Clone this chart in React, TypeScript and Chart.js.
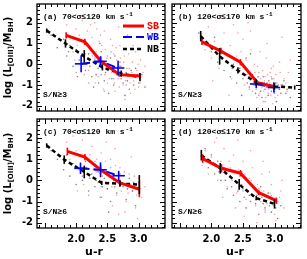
import React, { useEffect, useRef } from "react";
import { Chart, registerables } from "chart.js";
Chart.register(...registerables);

type Pt = [number, number];

const X_MIN = 1.375;
const X_MAX = 3.42;
const Y_MIN = -2.25;
const Y_MAX = 2.9;
const xTickLabels = [2.0, 2.5, 3.0];
const yTickLabels = [-2, -1, 0, 1, 2];
const legendNames = ["SB", "WB", "NB"];
const panelTitles = ["(a) 70<σ≤120 km s", "(b) 120<σ≤170 km s", "(c) 70<σ≤120 km s", "(d) 120<σ≤170 km s"];
const snLabels = ["S/N≥3", "S/N≥3", "S/N≥6", "S/N≥6"];

// ---- Panel (a) ----
const sbAx = [1.84, 2.14, 2.39, 2.69, 3.02];
const sbAy = [1.39, 1.08, 0.16, -0.5, -0.57];
const sbAerr = [0.15, 0.15, 0.2, 0.1, 0.15];
const wbAx = [2.08, 2.39, 2.67];
const wbAy = [0.02, 0.14, -0.18];
const wbAerr = [0.4, 0.25, 0.35];
const nbAx = [1.53, 1.83, 2.13, 2.42, 2.72, 3.02];
const nbAy = [1.62, 1.0, 0.38, -0.15, -0.45, -0.62];
const nbAerr = [0.1, 0.2, 0.3, 0.15, 0.15, 0.2];
const dotsAred: Pt[] = [[1.85,1.9],[1.9,1.2],[1.95,0.6],[2.0,1.7],[2.02,0.9],[2.05,1.4],[2.08,0.2],[2.1,2.1],[2.12,1.0],[2.15,0.5],[2.18,1.6],[2.2,-0.3],[2.22,0.8],[2.25,1.3],[2.27,0.1],[2.3,2.0],[2.32,0.6],[2.35,-0.6],[2.37,1.1],[2.4,0.3],[2.42,-0.2],[2.45,1.6],[2.47,0.7],[2.5,-0.9],[2.52,0.0],[2.55,1.2],[2.57,-0.4],[2.6,0.5],[2.62,-1.3],[2.65,0.2],[2.67,-0.7],[2.7,0.9],[2.72,-0.1],[2.75,-1.0],[2.77,0.4],[2.8,-0.5],[2.82,1.4],[2.85,-0.2],[2.87,-1.4],[2.9,0.1],[2.92,-0.8],[2.95,0.6],[2.97,-0.3],[3.0,-1.1],[3.03,0.2],[3.05,-0.6],[3.1,-0.1],[2.33,1.7],[2.58,0.9],[2.13,-0.5],[2.68,1.8],[2.44,-1.2],[1.98,0.2],[2.78,-1.7],
  [2.26,0.4],[2.31,-0.9],[2.36,0.2],[2.41,0.9],[2.46,-0.5],[2.49,0.3],[2.53,-0.7],[2.56,0.6],[2.59,-0.2],[2.61,-0.9],[2.64,0.8],[2.66,-0.3],[2.69,-1.1],[2.71,0.3],[2.74,-0.5],[2.76,0.1],[2.79,-0.8],[2.81,-0.2],[2.84,0.5],[2.86,-0.9],[2.89,-0.4],[2.91,0.9],[2.94,-1.2],[2.96,-0.6],[2.99,0.0],[3.02,-0.9],[3.07,-0.4],[2.17,0.9],[2.23,1.9],[2.39,1.4]];
const dotsAblack: Pt[] = [[1.6,1.4],[1.7,0.8],[1.8,1.2],[1.85,0.4],[1.9,0.9],[1.95,-0.1],[2.0,0.7],[2.05,0.2],[2.1,1.1],[2.15,-0.3],[2.2,0.5],[2.25,-0.6],[2.3,0.2],[2.35,-0.2],[2.4,0.6],[2.45,-0.8],[2.5,-0.3],[2.55,0.3],[2.6,-1.0],[2.65,-0.5],[2.7,-0.1],[2.75,-0.9],[2.8,-0.4],[2.85,-1.2],[2.9,-0.6],[2.95,-0.2],[3.0,-0.9],[3.05,-0.5],[3.1,-1.1],[2.28,-1.1],[2.52,-1.4],[2.62,0.4],[2.02,-0.6],[2.38,1.0],[2.78,-1.5],
  [2.22,-0.1],[2.32,-0.5],[2.42,0.1],[2.47,-0.4],[2.57,-0.7],[2.67,-0.2],[2.72,-0.7],[2.82,-0.8],[2.88,-0.3],[2.98,-0.5],[2.12,0.4],[1.88,0.6],[2.36,-0.9],[2.58,-0.1],[2.92,-1.0]];
const dotsAblue: Pt[] = [[2.0,-0.4],[2.1,0.5],[2.2,-0.9],[2.3,0.3],[2.4,-0.5],[2.5,0.4],[2.6,-0.7],[2.7,0.1],[2.8,-1.0],[2.45,-1.3]];

// ---- Panel (b) ----
const sbBx = [1.85, 2.15, 2.46, 2.73, 2.99];
const sbBy = [1.08, 0.63, 0.1, -0.89, -1.08];
const sbBerr = [0.15, 0.15, 0.15, 0.1, 0.12];
const wbBx = [2.71, 2.99];
const wbBy = [-0.95, -1.12];
const wbBerr = [0.2, 0.25];
const nbBx = [1.83, 2.13, 2.42, 2.71, 3.0, 3.32];
const nbBy = [1.35, 0.38, -0.3, -0.88, -1.07, -1.12];
const nbBerr = [0.25, 0.4, 0.15, 0.15, 0.15, 0.1];
const dotsBred: Pt[] = [[1.85,1.3],[1.9,0.7],[1.95,1.8],[2.0,0.3],[2.05,1.1],[2.1,2.2],[2.12,-0.2],[2.15,0.8],[2.2,1.5],[2.25,0.1],[2.3,0.9],[2.32,-0.7],[2.35,1.9],[2.4,0.4],[2.45,-0.3],[2.5,1.2],[2.52,-1.0],[2.55,0.2],[2.6,-0.6],[2.62,1.6],[2.65,-1.3],[2.68,0.0],[2.7,-0.8],[2.72,-1.6],[2.75,-0.4],[2.77,0.6],[2.8,-1.1],[2.82,-1.8],[2.85,-0.6],[2.87,0.3],[2.9,-1.4],[2.92,-0.9],[2.95,-0.2],[2.97,-1.9],[3.0,-1.2],[3.02,-0.5],[3.05,-1.5],[3.08,0.1],[3.1,-1.0],[3.15,-0.7],[3.2,-1.3],[3.25,0.2],[2.58,2.0],[2.42,1.5],[2.88,1.0],[3.12,1.3],[2.28,-1.5],[2.02,-0.8],[2.74,-2.1],[2.98,-0.1],
  [2.66,-0.9],[2.69,-0.4],[2.71,-1.2],[2.73,-0.1],[2.76,-1.4],[2.78,-0.7],[2.79,-1.0],[2.81,-0.3],[2.83,-1.3],[2.84,-0.8],[2.86,-1.6],[2.89,-0.5],[2.91,-1.2],[2.93,-0.4],[2.94,-1.5],[2.96,-1.0],[2.99,-0.7],[3.01,-1.6],[3.04,-0.9],[3.07,-1.2],[3.09,-0.4],[3.13,-1.0],[3.18,-0.9],[2.56,-0.5],[2.47,0.6],[2.37,0.3],[2.63,0.7],[3.22,-0.4]];
const dotsBblack: Pt[] = [[1.8,1.5],[1.9,1.0],[2.0,0.6],[2.05,1.3],[2.1,0.1],[2.15,0.7],[2.2,-0.3],[2.25,0.4],[2.3,-0.6],[2.35,0.0],[2.4,-0.9],[2.45,-0.2],[2.5,-0.7],[2.55,0.3],[2.6,-1.1],[2.65,-0.5],[2.7,-1.4],[2.72,-0.8],[2.75,-1.0],[2.8,-1.6],[2.82,-0.6],[2.85,-1.2],[2.88,-0.9],[2.9,-1.5],[2.93,-1.1],[2.96,-0.7],[3.0,-1.3],[3.03,-1.8],[3.06,-1.0],[3.1,-1.4],[3.15,-0.8],[3.2,-1.2],[2.48,-1.5],[2.62,0.5],[3.25,-1.6],
  [2.68,-1.0],[2.74,-0.6],[2.78,-1.3],[2.84,-0.9],[2.87,-1.1],[2.91,-0.8],[2.95,-1.3],[2.98,-1.0],[3.02,-0.9],[3.08,-1.2],[3.12,-1.0],[2.57,-0.9],[2.33,-0.2],[3.18,-1.4]];
const dotsBblue: Pt[] = [[2.6,-1.2],[2.7,-0.7],[2.75,-1.5],[2.8,-0.9],[2.85,-1.8],[2.9,-1.1],[2.95,-0.6],[3.0,-1.4]];

// ---- Panel (c) ----
const sbCx = [1.86, 2.14, 2.39, 2.7, 3.01];
const sbCy = [1.37, 1.1, 0.5, -0.12, -0.42];
const sbCerr = [0.18, 0.15, 0.2, 0.15, 0.38];
const wbCx = [2.07, 2.39, 2.68];
const wbCy = [0.57, 0.5, 0.22];
const wbCerr = [0.27, 0.35, 0.23];
const nbCx = [1.53, 1.81, 2.13, 2.41, 2.7, 3.01];
const nbCy = [1.65, 0.98, 0.4, -0.12, -0.15, -0.2];
const nbCerr = [0.1, 0.2, 0.3, 0.1, 0.15, 0.45];
const dotsCred: Pt[] = [[1.85,1.8],[1.9,1.0],[1.95,2.1],[2.0,1.4],[2.05,0.6],[2.1,1.9],[2.15,1.1],[2.2,0.3],[2.25,1.6],[2.3,0.8],[2.35,-0.1],[2.4,1.3],[2.45,0.5],[2.5,-0.4],[2.55,1.0],[2.6,0.2],[2.65,-0.7],[2.7,0.6],[2.75,-0.2],[2.8,-1.0],[2.85,0.3],[2.9,-0.5],[2.95,-1.3],[3.0,0.1],[3.05,-0.8],[3.1,-0.3],[2.28,2.2],[2.48,1.8],[2.62,1.5],[2.78,-1.5],[2.12,-0.2],[2.38,-0.8],[2.58,-1.2],[2.88,1.1],[2.02,-0.5],[2.68,-1.6],[2.98,-1.8],[2.32,0.4],
  [2.22,1.2],[2.27,0.5],[2.33,1.0],[2.42,0.2],[2.47,0.9],[2.52,0.4],[2.57,-0.3],[2.63,0.7],[2.67,0.0],[2.72,-0.5],[2.77,0.4],[2.83,-0.6],[2.87,-0.2],[2.93,0.2],[2.97,-0.7],[3.03,-0.4],[2.17,0.6],[2.07,1.2]];
const dotsCblack: Pt[] = [[1.6,1.4],[1.7,1.0],[1.8,0.5],[1.85,1.2],[1.9,0.2],[1.95,0.8],[2.0,-0.2],[2.05,0.5],[2.1,0.0],[2.15,0.9],[2.2,-0.5],[2.25,0.3],[2.3,-0.3],[2.35,0.4],[2.4,-0.8],[2.45,0.1],[2.5,-0.4],[2.55,-1.0],[2.6,0.0],[2.65,-0.6],[2.7,0.3],[2.75,-0.3],[2.8,-0.9],[2.85,0.1],[2.9,-0.5],[2.95,-1.2],[3.0,-0.1],[2.52,-1.5],
  [2.12,0.5],[2.22,0.1],[2.32,0.0],[2.42,-0.3],[2.52,-0.1],[2.62,-0.3],[2.72,-0.2],[2.82,-0.4],[2.92,-0.1],[2.02,0.6]];
const dotsCblue: Pt[] = [[2.1,0.2],[2.3,0.9],[2.4,-0.3],[2.55,0.6],[2.7,-0.2],[2.2,-0.7]];

// ---- Panel (d) ----
const sbDx = [1.86, 2.16, 2.46, 2.75, 3.03];
const sbDy = [1.03, 0.57, 0.34, -0.58, -0.96];
const sbDerr = [0.2, 0.2, 0.15, 0.12, 0.15];
const nbDx = [1.84, 2.14, 2.44, 2.71, 3.0];
const nbDy = [1.19, 0.57, -0.19, -0.84, -1.11];
const nbDerr = [0.25, 0.25, 0.25, 0.1, 0.22];
const dotsDred: Pt[] = [[1.85,0.7],[1.9,1.4],[1.95,0.3],[2.0,1.1],[2.05,1.8],[2.1,0.0],[2.15,0.9],[2.2,1.5],[2.25,-0.3],[2.3,0.6],[2.35,1.2],[2.4,-0.6],[2.45,0.2],[2.5,0.9],[2.55,-0.9],[2.6,-0.1],[2.65,0.6],[2.7,-1.2],[2.75,-0.4],[2.8,0.3],[2.85,-1.5],[2.9,-0.8],[2.95,-0.2],[3.0,-1.6],[3.05,-1.0],[3.1,-0.5],[3.15,-1.3],[2.42,1.9],[2.62,1.4],[2.82,0.9],[2.18,-0.8],[2.38,-1.3],[2.72,-2.0],[2.92,0.4],[3.02,-1.9],[2.08,2.0],[2.52,-1.7],[3.12,0.0],
  [2.22,0.3],[2.28,0.9],[2.33,0.0],[2.43,0.5],[2.48,-0.2],[2.53,0.3],[2.58,-0.5],[2.63,0.0],[2.68,-0.7],[2.73,-0.2],[2.78,-1.0],[2.83,-0.5],[2.88,-1.1],[2.93,-0.6],[2.98,-1.2],[3.08,-0.8],[2.13,0.5],[2.03,0.8]];
const dotsDblack: Pt[] = [[1.85,1.0],[1.9,1.5],[1.95,0.6],[2.0,1.2],[2.05,0.3],[2.1,0.9],[2.15,0.0],[2.2,0.6],[2.25,-0.4],[2.3,0.2],[2.35,-0.7],[2.4,-0.1],[2.45,-1.0],[2.5,-0.4],[2.55,-1.3],[2.6,-0.7],[2.65,-0.2],[2.7,-1.1],[2.75,-1.6],[2.8,-0.8],[2.85,-1.3],[2.9,-0.6],[2.95,-1.5],[3.0,-1.0],[3.05,-1.8],[3.1,-1.2],[2.48,0.4],[2.78,-0.3],
  [2.12,0.4],[2.22,0.0],[2.32,-0.3],[2.42,-0.5],[2.52,-0.8],[2.62,-1.0],[2.72,-0.7],[2.82,-1.1],[2.92,-1.2],[3.02,-1.3]];
const dotsDblue: Pt[] = [[2.5,-0.5],[2.7,-0.9],[2.85,-1.4],[2.95,-0.7],[2.6,0.1]];

const RED = "#ff0000";
const BLUE = "#0000ff";
const BLACK = "#000000";

type Series = { x: number[]; y: number[]; err: number[] } | null;
type PanelSpec = {
  idx: number;
  sb: Series; wb: Series; nb: Series;
  red: Pt[]; black: Pt[]; blue: Pt[];
  showY: boolean; showX: boolean; legend: boolean;
  left: number; top: number; width: number; height: number;
  padding: { left: number; right: number; top: number; bottom: number };
  xTitleX: number;
};

const panels: PanelSpec[] = [
  { idx: 0, sb: { x: sbAx, y: sbAy, err: sbAerr }, wb: { x: wbAx, y: wbAy, err: wbAerr }, nb: { x: nbAx, y: nbAy, err: nbAerr },
    red: dotsAred, black: dotsAblack, blue: dotsAblue, showY: true, showX: false, legend: true,
    left: 0, top: 0, width: 169, height: 115, padding: { left: 0, right: 1, top: 2, bottom: 1 }, xTitleX: 0 },
  { idx: 1, sb: { x: sbBx, y: sbBy, err: sbBerr }, wb: { x: wbBx, y: wbBy, err: wbBerr }, nb: { x: nbBx, y: nbBy, err: nbBerr },
    red: dotsBred, black: dotsBblack, blue: dotsBblue, showY: false, showX: false, legend: false,
    left: 168, top: 0, width: 139, height: 115, padding: { left: 1, right: 6, top: 2, bottom: 1 }, xTitleX: 0 },
  { idx: 2, sb: { x: sbCx, y: sbCy, err: sbCerr }, wb: { x: wbCx, y: wbCy, err: wbCerr }, nb: { x: nbCx, y: nbCy, err: nbCerr },
    red: dotsCred, black: dotsCblack, blue: dotsCblue, showY: true, showX: true, legend: false,
    left: 0, top: 115, width: 169, height: 144, padding: { left: 0, right: 1, top: 1, bottom: 0 }, xTitleX: 94 },
  { idx: 3, sb: { x: sbDx, y: sbDy, err: sbDerr }, wb: null, nb: { x: nbDx, y: nbDy, err: nbDerr },
    red: dotsDred, black: dotsDblack, blue: dotsDblue, showY: false, showX: true, legend: false,
    left: 168, top: 115, width: 139, height: 144, padding: { left: 1, right: 6, top: 1, bottom: 0 }, xTitleX: 67 },
];

const TICK_FONT = { family: "'DejaVu Sans'", size: 10, weight: "bold" as const };
const LABEL_FONT = "bold 8px 'Liberation Mono'";

function makePlugin(p: PanelSpec) {
  return {
    id: "panelDecor",
    afterDatasetsDraw(chart: any) {
      const ctx = chart.ctx;
      const a = chart.chartArea;
      const xs = chart.scales.x;
      const ys = chart.scales.y;
      ctx.save();
      // error bars
      chart.data.datasets.forEach((ds: any) => {
        if (!ds.errY) return;
        ctx.strokeStyle = ds.borderColor;
        ctx.lineWidth = 1.6;
        ctx.setLineDash([]);
        ds.data.forEach((pt: any, i: number) => {
          const px = xs.getPixelForValue(pt.x);
          const e = ds.errY[i];
          ctx.beginPath();
          ctx.moveTo(px, ys.getPixelForValue(pt.y - e));
          ctx.lineTo(px, ys.getPixelForValue(pt.y + e));
          ctx.stroke();
          if (ds.errX) {
            const py = ys.getPixelForValue(pt.y);
            ctx.beginPath();
            ctx.moveTo(xs.getPixelForValue(pt.x - ds.errX), py);
            ctx.lineTo(xs.getPixelForValue(pt.x + ds.errX), py);
            ctx.stroke();
          }
        });
      });
      // frame
      ctx.strokeStyle = "#000";
      ctx.lineWidth = 1.3;
      ctx.strokeRect(a.left, a.top, a.right - a.left, a.bottom - a.top);
      // ticks
      ctx.lineWidth = 1;
      ctx.beginPath();
      for (let i = 14; i <= 34; i++) {
        const px = Math.round(xs.getPixelForValue(i / 10)) + 0.5;
        const len = i % 5 === 0 ? 5 : 3;
        ctx.moveTo(px, a.bottom); ctx.lineTo(px, a.bottom - len);
        ctx.moveTo(px, a.top); ctx.lineTo(px, a.top + len);
      }
      for (let i = -11; i <= 14; i++) {
        const py = Math.round(ys.getPixelForValue(i / 5)) + 0.5;
        const len = i % 5 === 0 ? 5 : 3;
        ctx.moveTo(a.left, py); ctx.lineTo(a.left + len, py);
        ctx.moveTo(a.right, py); ctx.lineTo(a.right - len, py);
      }
      ctx.stroke();
      // panel title
      ctx.fillStyle = "#000";
      ctx.textBaseline = "middle";
      ctx.textAlign = "left";
      ctx.font = LABEL_FONT;
      const t = panelTitles[p.idx];
      const tx = a.left + 6;
      const ty = a.top + 13;
      ctx.fillText(t, tx, ty);
      const tw = ctx.measureText(t).width;
      ctx.font = "bold 6px 'Liberation Mono'";
      ctx.fillText("-1", tx + tw + 1, ty - 3);
      // S/N
      ctx.font = LABEL_FONT;
      ctx.fillText(snLabels[p.idx], a.left + 6, a.bottom - 16);
      // legend
      if (p.legend) {
        const colors = [RED, BLUE, BLACK];
        const dashes = [[], [9, 4], [4, 3]];
        const widths = [3, 2, 2.5];
        const ly = [26, 37, 49];
        legendNames.forEach((n, i) => {
          ctx.strokeStyle = colors[i];
          ctx.lineWidth = widths[i];
          ctx.setLineDash(dashes[i]);
          ctx.beginPath();
          ctx.moveTo(123, ly[i]);
          ctx.lineTo(144, ly[i]);
          ctx.stroke();
          ctx.setLineDash([]);
          ctx.fillStyle = colors[i];
          ctx.font = "bold 10px 'Liberation Mono'";
          ctx.fillText(n, 147, ly[i] + 0.5);
        });
      }
      // y title
      if (p.showY) {
        ctx.fillStyle = "#000";
        ctx.translate(a.left - 29, (a.top + a.bottom) / 2);
        ctx.rotate(-Math.PI / 2);
        const main = "bold 10px 'DejaVu Sans'";
        const sub = "bold 7px 'DejaVu Sans'";
        const segs = [
          { s: "log (L", f: main, dy: 0 },
          { s: "[OIII]", f: sub, dy: 3 },
          { s: "/M", f: main, dy: 0 },
          { s: "BH", f: sub, dy: 3 },
          { s: ")", f: main, dy: 0 },
        ];
        let total = 0;
        segs.forEach((g) => { ctx.font = g.f; total += ctx.measureText(g.s).width; });
        let x = -total / 2;
        segs.forEach((g) => {
          ctx.font = g.f;
          ctx.fillText(g.s, x, g.dy);
          x += ctx.measureText(g.s).width;
        });
        ctx.setTransform(1, 0, 0, 1, 0, 0);
      }
      // x title
      if (p.showX) {
        ctx.fillStyle = "#000";
        ctx.textAlign = "center";
        ctx.font = "bold 11px 'DejaVu Sans'";
        ctx.fillText("u-r", p.xTitleX, a.bottom + 24);
      }
      ctx.restore();
    },
  };
}

function toPts(xs: number[], ys: number[]) {
  return xs.map((x, i) => ({ x, y: ys[i] }));
}

function Panel({ p }: { p: PanelSpec }) {
  const ref = useRef<HTMLCanvasElement>(null);
  useEffect(() => {
    if (!ref.current) return;
    const datasets: any[] = [];
    if (p.sb) datasets.push({ data: toPts(p.sb.x, p.sb.y), errY: p.sb.err, showLine: true, borderColor: RED, borderWidth: 3, pointRadius: 0, order: 0 });
    if (p.wb) datasets.push({ data: toPts(p.wb.x, p.wb.y), errY: p.wb.err, errX: 0.1, showLine: true, borderColor: BLUE, borderWidth: 2, borderDash: [9, 4], pointRadius: 0, order: 1 });
    if (p.nb) datasets.push({ data: toPts(p.nb.x, p.nb.y), errY: p.nb.err, showLine: true, borderColor: BLACK, borderWidth: 2.5, borderDash: [4, 3], pointRadius: 0, order: 2 });
    const dot = (pts: Pt[], c: string, o: number) => ({
      data: pts.map(([x, y]) => ({ x, y })), showLine: false, pointRadius: 0.8, pointBorderWidth: 0,
      pointBackgroundColor: c, borderColor: c, order: o,
    });
    datasets.push(dot(p.blue, "rgba(60,60,255,0.5)", 3));
    datasets.push(dot(p.black, "rgba(0,0,0,0.5)", 4));
    datasets.push(dot(p.red, "rgba(255,60,60,0.5)", 5));

    const chart = new Chart(ref.current, {
      type: "scatter",
      data: { datasets },
      options: {
        animation: false,
        responsive: false,
        maintainAspectRatio: false,
        devicePixelRatio: 1,
        layout: { padding: p.padding },
        plugins: { legend: { display: false }, tooltip: { enabled: false } },
        scales: {
          x: {
            type: "linear", min: X_MIN, max: X_MAX, display: p.showX,
            afterBuildTicks: (s: any) => { s.ticks = xTickLabels.map((v) => ({ value: v })); },
            afterFit: (s: any) => { s.height = p.showX ? 31 : 0; s.paddingLeft = 0; s.paddingRight = 0; },
            ticks: { callback: (v: any) => Number(v).toFixed(1), font: TICK_FONT, color: "#000", padding: 5, maxRotation: 0, autoSkip: false },
            grid: { display: false, drawTicks: false },
            border: { display: false },
          },
          y: {
            type: "linear", min: Y_MIN, max: Y_MAX, display: p.showY,
            afterBuildTicks: (s: any) => { s.ticks = yTickLabels.map((v) => ({ value: v })); },
            afterFit: (s: any) => { s.width = p.showY ? 37 : 0; s.paddingTop = 0; s.paddingBottom = 0; },
            ticks: { callback: (v: any) => String(v), font: TICK_FONT, color: "#000", padding: 4, autoSkip: false },
            grid: { display: false, drawTicks: false },
            border: { display: false },
          },
        },
      } as any,
      plugins: [makePlugin(p)],
    });
    return () => chart.destroy();
  }, [p]);
  return (
    <canvas
      ref={ref}
      width={p.width}
      height={p.height}
      style={{ position: "absolute", left: p.left, top: p.top, width: p.width, height: p.height }}
    />
  );
}

export default function App() {
  return (
    <div style={{ position: "fixed", left: 0, top: 0, width: 307, height: 259, background: "#fff" }}>
      {panels.map((p) => (
        <Panel key={p.idx} p={p} />
      ))}
    </div>
  );
}
